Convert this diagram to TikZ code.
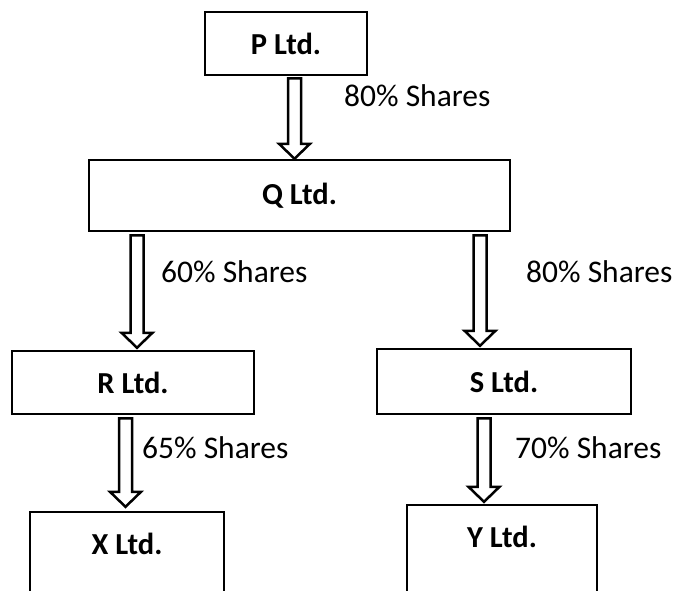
\documentclass[tikz,border=0pt]{standalone}
\usepackage{fontspec}
\setmainfont{Carlito}
\usetikzlibrary{calc}

\tikzset{
  company/.style={draw, line width=2.5pt, inner sep=0pt,
    font=\fontsize{30.5}{36}\selectfont\bfseries},
  opencompany/.style={inner sep=0pt, font=\fontsize{30.5}{36}\selectfont\bfseries},
  shareline/.style={line width=2.5pt, fill=white},
  sharetext/.style={anchor=base west, inner sep=0pt, font=\fontsize{31.5}{38}\selectfont}
}

\newcommand{\sharearrow}[2]{%
  \draw[shareline] ($(#1)+(-6.5,0)$) -- ($(#2)+(-6.5,-15)$) -- ($(#2)+(-15.5,-15)$)
    -- (#2) -- ($(#2)+(15.5,-15)$) -- ($(#2)+(6.5,-15)$) -- ($(#1)+(6.5,0)$) -- cycle;}

\begin{document}
\begin{tikzpicture}[x=1pt,y=-1pt]
\useasboundingbox (0,0) rectangle (677,590);
\clip (0,0) rectangle (677,590);

\node[company, minimum width=162, minimum height=63] (p) at (286,43.5) {P Ltd.};
\node[company, minimum width=421, minimum height=71] (q) at (299.5,195.5) {Q Ltd.};
\node[company, minimum width=242, minimum height=63] (r) at (133,382.5) {R Ltd.};
\node[company, minimum width=254, minimum height=65] (s) at (504,381.5) {S Ltd.};
\node[opencompany, minimum width=194, minimum height=63] (x) at (127,543.5) {X Ltd.};
\node[opencompany, minimum width=190, minimum height=63] (y) at (502,536.5) {Y Ltd.};
\draw[line width=2.5pt] ([yshift=-60pt]x.south west) -- (x.north west) -- (x.north east) -- ([yshift=-60pt]x.south east);
\draw[line width=2.5pt] ([yshift=-60pt]y.south west) -- (y.north west) -- (y.north east) -- ([yshift=-60pt]y.south east);

\coordinate (pq-a) at ([shift={(8.5,2)}]p.south);
\coordinate (pq-b) at (pq-a |- q.north);
\coordinate (qr-a) at ([shift={(4,3)}]r.north |- q.south);
\coordinate (qr-b) at ([yshift=2pt]qr-a |- r.north);
\coordinate (qs-a) at ([shift={(-24,3)}]s.north |- q.south);
\coordinate (qs-b) at ([yshift=2pt]qs-a |- s.north);
\coordinate (rx-a) at ([shift={(-7.5,3)}]r.south);
\coordinate (rx-b) at ([yshift=5pt]rx-a |- x.north);
\coordinate (sy-a) at ([shift={(-20,3)}]s.south);
\coordinate (sy-b) at ([yshift=3pt]sy-a |- y.north);

\sharearrow{pq-a}{pq-b}
\sharearrow{qr-a}{qr-b}
\sharearrow{qs-a}{qs-b}
\sharearrow{rx-a}{rx-b}
\sharearrow{sy-a}{sy-b}

\node[sharetext] (pq-t) at (344,106) {80\% Shares};
\node[sharetext] (qr-t) at (161,282) {60\% Shares};
\node[sharetext] (qs-t) at (526,282) {80\% Shares};
\node[sharetext] (rx-t) at (142,458) {65\% Shares};
\node[sharetext] (sy-t) at (515,458) {70\% Shares};
\end{tikzpicture}
\end{document}
